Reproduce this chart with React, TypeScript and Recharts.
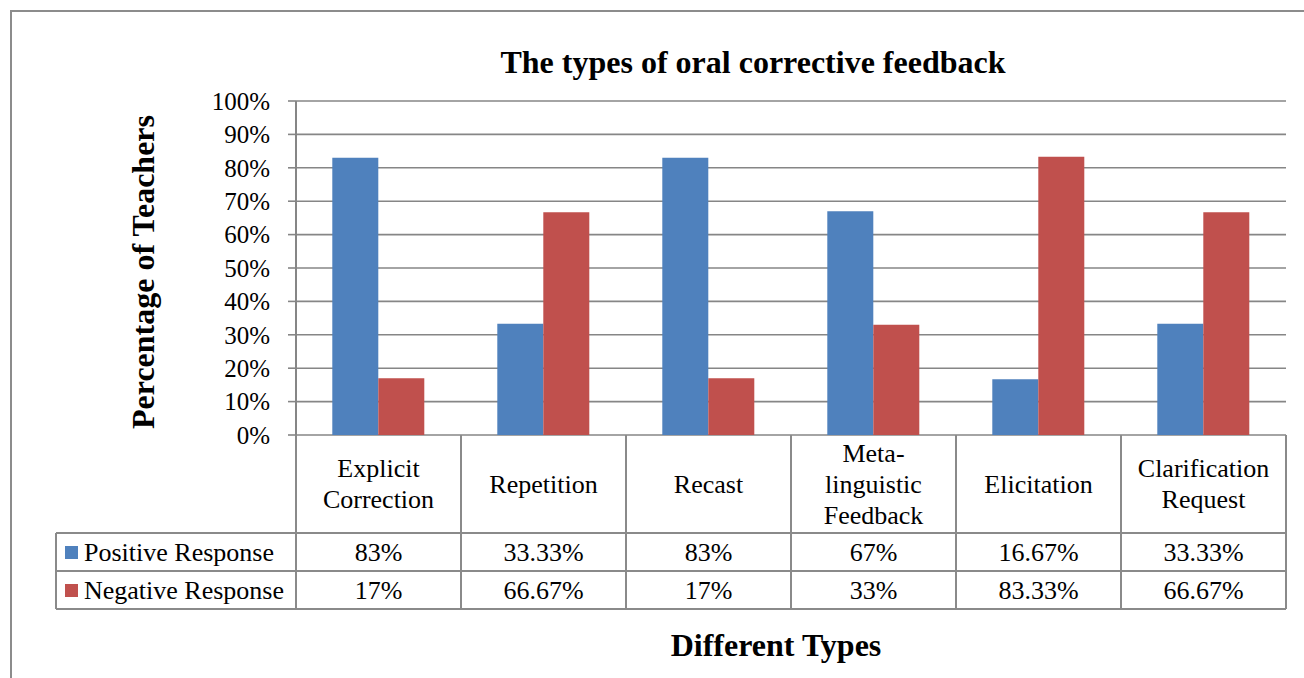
import React from "react";
import { BarChart, Bar, XAxis, YAxis, CartesianGrid } from "recharts";

// Feedback categories (wrapped as they appear in the table header)
const categories = [
  "Explicit Correction",
  "Repetition",
  "Recast",
  "Meta-linguistic Feedback",
  "Elicitation",
  "Clarification Request",
];
const categoryLines = [
  ["Explicit", "Correction"],
  ["Repetition"],
  ["Recast"],
  ["Meta-", "linguistic", "Feedback"],
  ["Elicitation"],
  ["Clarification", "Request"],
];

// Percentage of teachers per response
const positiveResponse = [83, 33.33, 83, 67, 16.67, 33.33];
const negativeResponse = [17, 66.67, 17, 33, 83.33, 66.67];

const seriesNames = ["Positive Response", "Negative Response"];
const seriesColors = ["#4F81BD", "#C0504D"];

const yTicks = [0, 10, 20, 30, 40, 50, 60, 70, 80, 90, 100];

const data = categories.map((name, i) => ({
  name,
  positive: positiveResponse[i],
  negative: negativeResponse[i],
}));

const W = 1304;
const H = 678;
const MARGIN = { top: 101, right: 18, left: 0, bottom: 0 };
const Y_AXIS_W = 296;
const X_AXIS_H = H - 435;
const PLOT_W = W - Y_AXIS_W - MARGIN.right;
const CELL_W = PLOT_W / categories.length;

const HEADER_H = 98;
const ROW_H = 38;
const LEGEND_LEFT = 56;

const FONT = "'Liberation Serif', 'Times New Roman', serif";
const GRID = "#868686";
const TABLE_LINE = "#8a8a8a";
const TABLE_FS = 26;

const fmt = (v: number) => `${v}%`;

// Renders one column of the data table under each category
const TableTick = (props: any) => {
  const { x, y, payload, index } = props;
  const i = payload?.index ?? index;
  const left = x - CELL_W / 2;
  const right = x + CELL_W / 2;
  const top = y;
  const r1 = top + HEADER_H;
  const r2 = r1 + ROW_H;
  const r3 = r2 + ROW_H;
  const lines = categoryLines[i] || [String(payload.value)];
  const lh = 31;
  const headerMid = top + HEADER_H / 2;
  const startY = headerMid - ((lines.length - 1) * lh) / 2;
  const values = [positiveResponse[i], negativeResponse[i]];

  return (
    <g>
      {/* column borders */}
      <line x1={left} y1={top} x2={left} y2={r3} stroke={TABLE_LINE} strokeWidth={2} />
      <line x1={right} y1={top} x2={right} y2={r3} stroke={TABLE_LINE} strokeWidth={2} />
      <line x1={left} y1={r1} x2={right} y2={r1} stroke={TABLE_LINE} strokeWidth={2} />
      <line x1={left} y1={r2} x2={right} y2={r2} stroke={TABLE_LINE} strokeWidth={2} />
      <line x1={left} y1={r3} x2={right} y2={r3} stroke={TABLE_LINE} strokeWidth={2} />
      {lines.map((ln, k) => (
        <text
          key={k}
          x={x}
          y={startY + k * lh}
          textAnchor="middle"
          dominantBaseline="central"
          fontFamily={FONT}
          fontSize={TABLE_FS}
          fill="#000"
        >
          {ln}
        </text>
      ))}
      {values.map((v, k) => (
        <text
          key={`v${k}`}
          x={x}
          y={r1 + ROW_H * k + ROW_H / 2}
          textAnchor="middle"
          dominantBaseline="central"
          fontFamily={FONT}
          fontSize={TABLE_FS}
          fill="#000"
        >
          {fmt(v)}
        </text>
      ))}
      {i === 0 && (
        <g>
          {/* legend keys on the left of the table */}
          <line x1={LEGEND_LEFT} y1={r1} x2={left} y2={r1} stroke={TABLE_LINE} strokeWidth={2} />
          <line x1={LEGEND_LEFT} y1={r2} x2={left} y2={r2} stroke={TABLE_LINE} strokeWidth={2} />
          <line x1={LEGEND_LEFT} y1={r3} x2={left} y2={r3} stroke={TABLE_LINE} strokeWidth={2} />
          <line x1={LEGEND_LEFT} y1={r1} x2={LEGEND_LEFT} y2={r3} stroke={TABLE_LINE} strokeWidth={2} />
          {seriesNames.map((nm, k) => {
            const cy = r1 + ROW_H * k + ROW_H / 2;
            return (
              <g key={nm}>
                <rect x={65} y={cy - 6} width={13} height={13} fill={seriesColors[k]} />
                <text
                  x={84}
                  y={cy}
                  dominantBaseline="central"
                  fontFamily={FONT}
                  fontSize={TABLE_FS}
                  fill="#000"
                >
                  {nm}
                </text>
              </g>
            );
          })}
        </g>
      )}
    </g>
  );
};

export default function App() {
  return (
    <div style={{ position: "absolute", left: 0, top: 0, width: W, height: H, background: "#fff" }}>
      <BarChart
        width={W}
        height={H}
        data={data}
        margin={MARGIN}
        barCategoryGap="22%"
        barGap={0}
        style={{ fontFamily: FONT }}
      >
        <rect x={11} y={11} width={W + 20} height={H + 20} fill="none" stroke="#8c8c8c" strokeWidth={2} />
        <CartesianGrid vertical={false} stroke={GRID} strokeWidth={1.6} />
        <XAxis
          dataKey="name"
          height={X_AXIS_H}
          axisLine={false}
          tickLine={false}
          tickSize={0}
          tickMargin={0}
          interval={0}
          tick={<TableTick />}
        />
        <YAxis
          width={Y_AXIS_W}
          domain={[0, 100]}
          ticks={yTicks}
          tickFormatter={fmt}
          interval={0}
          tickSize={8}
          tickMargin={18}
          axisLine={{ stroke: GRID, strokeWidth: 2 }}
          tickLine={{ stroke: GRID, strokeWidth: 1.6 }}
          tick={{ fill: "#000", fontSize: 25, fontFamily: FONT }}
        />
        <Bar dataKey="positive" name={seriesNames[0]} fill={seriesColors[0]} isAnimationActive={false} />
        <Bar dataKey="negative" name={seriesNames[1]} fill={seriesColors[1]} isAnimationActive={false} />
        <text
          x={753}
          y={62}
          textAnchor="middle"
          dominantBaseline="central"
          fontFamily={FONT}
          fontWeight="bold"
          fontSize={32}
          fill="#000"
        >
          The types of oral corrective feedback
        </text>
        <text
          x={143}
          y={272}
          transform="rotate(-90 143 272)"
          textAnchor="middle"
          dominantBaseline="central"
          fontFamily={FONT}
          fontWeight="bold"
          fontSize={32}
          fill="#000"
        >
          Percentage of Teachers
        </text>
        <text
          x={776}
          y={645}
          textAnchor="middle"
          dominantBaseline="central"
          fontFamily={FONT}
          fontWeight="bold"
          fontSize={32}
          fill="#000"
        >
          Different Types
        </text>
      </BarChart>
    </div>
  );
}
